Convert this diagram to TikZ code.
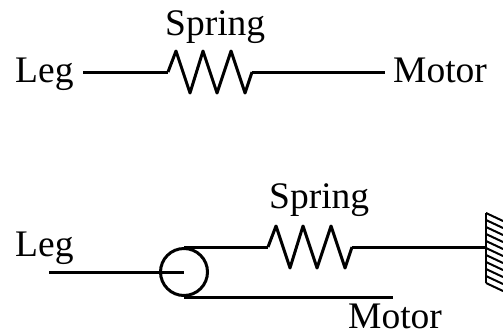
\documentclass[tikz,border=0pt]{standalone}
\usepackage{fontspec}
\setmainfont{Liberation Serif}
\usepackage{xcolor}
\tikzset{
  label text/.style={inner sep=0pt, anchor=base west, font=\fontsize{37.5}{40}\selectfont},
  cable/.style={line width=3pt, line join=round},
  springzig/.pic={
    \coordinate (-in) at (0,0);
    \coordinate (-out) at (84,0);
    \draw[cable] (-in) -- (8,-21) -- (22,21) -- (35,-21) -- (49,21) -- (63,-21) -- (77,21) -- (-out);
  }
}

\begin{document}
\begin{tikzpicture}[x=1pt, y=-1pt]
  \useasboundingbox (0,0) rectangle (503,335);
  % upper sketch
  \node[label text] (legA) at (15,82) {Leg};
  \node[label text] (springlabelA) at (165,35) {Spring};
  \node[label text] (motorA) at (393,82) {Motor};
  \pic (springA) at (168,72) {springzig};
  \coordinate (legAend) at (83,72);
  \coordinate (motorAend) at (385,72);
  \draw[cable] (legAend) -- (springA-in);
  \draw[cable] (springA-out) -- (motorAend);

  % lower sketch
  \node[label text] (legB) at (15,256) {Leg};
  \node[label text] (springlabelB) at (269,208) {Spring};
  \node[label text] (motorB) at (348,328) {Motor};
  \node[circle, draw, line width=3pt, minimum size=47pt, inner sep=0pt] (pulley) at (184,272) {};
  \pic (springB) at (268,247) {springzig};
  \coordinate (legBend) at (49,272);
  \coordinate (wallpoint) at (486,247);
  \coordinate (motorBend) at (393,297);
  \draw[cable] (legBend) -- (pulley.center);
  \draw[cable] (pulley.north) -- (springB-in);
  \draw[cable] (springB-out) -- (wallpoint);
  \draw[cable] (pulley.south) -- (motorBend);

  % wall
  \coordinate (walltop) at (486,213);
  \coordinate (wallbottom) at (486,283);
  \draw[line width=2.5pt] (walltop) -- (wallbottom);
  \foreach \y in {213,220,...,283}
    \draw[line width=2pt] (486,\y) -- ++(17,8);
\end{tikzpicture}
\end{document}
